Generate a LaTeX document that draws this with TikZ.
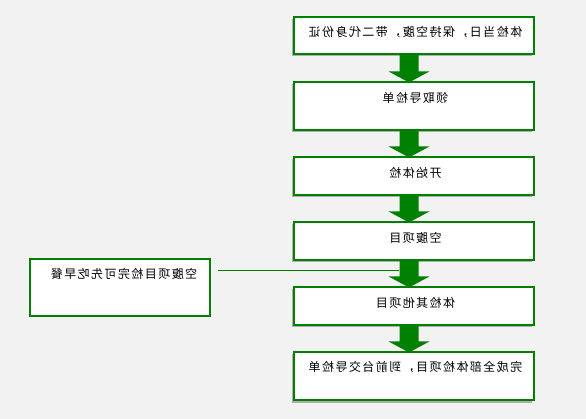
\documentclass[tikz,border=0pt]{standalone}
\usepackage{fontspec}
\newfontfamily\cjk[LetterSpace=12]{Noto Sans CJK SC}
\usetikzlibrary{shadows,calc}
\definecolor{fg}{RGB}{0,128,0}
\definecolor{bg}{RGB}{242,242,242}
\tikzset{
  box/.style={draw=fg, line width=1.1pt, fill=white, minimum width=240pt, inner sep=0pt,
    drop shadow={shadow xshift=-2.5pt, shadow yshift=-2.5pt, fill=black, opacity=0.28}},
  sidebox/.style={draw=fg, line width=1.1pt, fill=white, minimum width=180pt, minimum height=57pt, inner sep=0pt},
  txt/.style={inner sep=0pt, font=\cjk\fontsize{12pt}{14pt}\selectfont, text=black},
  bigarrow/.style={fill=fg},
  link/.style={draw=fg, line width=0.8pt}
}
\newcommand{\mir}[1]{\scalebox{-1}[1]{#1}}
\newcommand{\flowarrow}[2]{%
  \fill[bigarrow] ([xshift=-14.5pt]#1.south) -- ([xshift=4.5pt]#1.south)
    -- ([xshift=4.5pt,yshift=10pt]#2.north) -- ([xshift=15.5pt,yshift=10pt]#2.north)
    -- ([xshift=-5pt,yshift=-1pt]#2.north) -- ([xshift=-25.5pt,yshift=10pt]#2.north)
    -- ([xshift=-14.5pt,yshift=10pt]#2.north) -- cycle;}
\begin{document}
\begin{tikzpicture}[x=1pt,y=-1pt]
\fill[bg] (0,0) rectangle (586,419);
\useasboundingbox (0,0) rectangle (586,419);

\node[box, minimum height=37pt] (b1) at (414,35.5) {};
\node[box, minimum height=48pt] (b2) at (414,106) {};
\node[box, minimum height=38pt] (b3) at (414,176) {};
\node[box, minimum height=38pt] (b4) at (414,241) {};
\node[box, minimum height=38pt] (b5) at (414,306) {};
\node[box, minimum height=48pt] (b6) at (414,376) {};
\node[sidebox] (sb) at (120,287.5) {};

\node[txt] (t1) at ([xshift=1.5pt,yshift=-16pt]b1.north) {\mir{体检当日，保持空腹，带二代身份证}};
\node[txt] (t2) at ([xshift=1.5pt,yshift=-16pt]b2.north) {\mir{领取导检单}};
\node[txt] (t3) at ([xshift=1.5pt,yshift=-16pt]b3.north) {\mir{开始体检}};
\node[txt] (t4) at ([xshift=1.5pt,yshift=-16pt]b4.north) {\mir{空腹项目}};
\node[txt] (t5) at ([xshift=1.5pt,yshift=-16pt]b5.north) {\mir{体检其他项目}};
\node[txt] (t6) at ([xshift=1.5pt,yshift=-16pt]b6.north) {\mir{完成全部体检项目，到前台交导检单}};
\node[txt] (ts) at ([xshift=4pt,yshift=-15pt]sb.north) {\mir{空腹项目检完可先吃早餐}};

\flowarrow{b1}{b2}
\flowarrow{b2}{b3}
\flowarrow{b3}{b4}
\flowarrow{b4}{b5}
\flowarrow{b5}{b6}

\coordinate (la) at (218,270);
\coordinate (lb) at (399,270);
\draw[link] (la) -- (lb);
\end{tikzpicture}
\end{document}
